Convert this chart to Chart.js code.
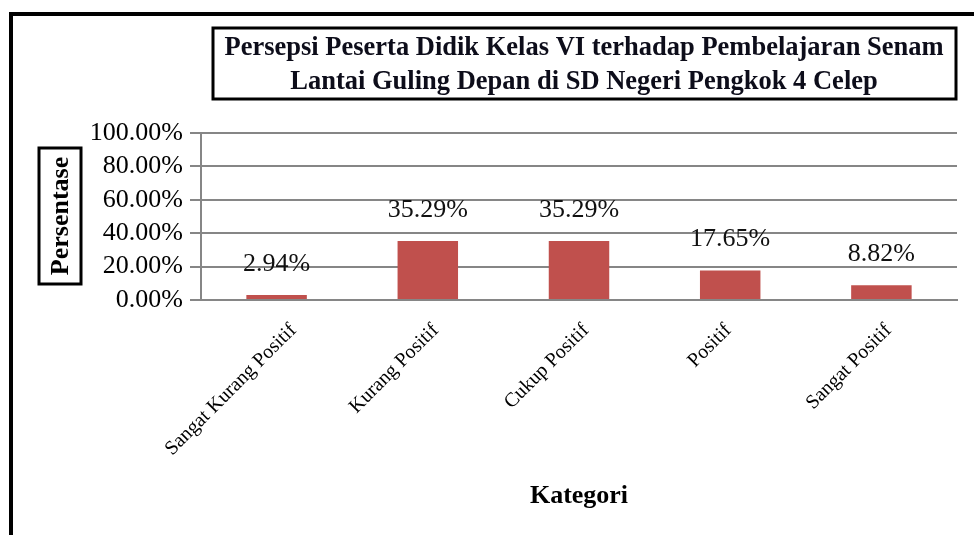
<!DOCTYPE html>
<html><head><meta charset="utf-8">
<script src="https://cdn.jsdelivr.net/npm/chart.js@4/dist/chart.umd.min.js"></script>
<style>html,body{margin:0;padding:0;background:#fff;} canvas{display:block;}</style>
</head><body>
<canvas id="c" width="974" height="535"></canvas>
<script>
const categories = ['Sangat Kurang Positif', 'Kurang Positif', 'Cukup Positif', 'Positif', 'Sangat Positif'];
const percentages = [2.94, 35.29, 35.29, 17.65, 8.82];
const yTickValues = [0, 20, 40, 60, 80, 100];
const titleLines = ['Persepsi Peserta Didik Kelas VI terhadap Pembelajaran Senam', 'Lantai Guling Depan di SD Negeri Pengkok 4 Celep'];
const yAxisTitle = 'Persentase';
const xAxisTitle = 'Kategori';

const SERIF = '"Liberation Serif", "Times New Roman", serif';
const BAR_COLOR = '#C0504D';
const GRID_COLOR = '#868686';

const decorPlugin = {
  id: 'decor',
  afterDraw(chart) {
    const ctx = chart.ctx;
    ctx.save();
    // outer frame (only left & top visible)
    ctx.strokeStyle = '#000';
    ctx.lineWidth = 4;
    ctx.strokeRect(11, 14, 1000, 600);
    // title box
    ctx.lineWidth = 3;
    ctx.strokeRect(213, 28, 743, 71);
    ctx.fillStyle = '#0d0d1a';
    ctx.font = 'bold 26.5px ' + SERIF;
    ctx.textAlign = 'center';
    ctx.textBaseline = 'middle';
    ctx.fillText(titleLines[0], 584, 48);
    ctx.fillText(titleLines[1], 584, 82);
    // y axis title box
    ctx.strokeRect(39, 148, 42, 136);
    ctx.save();
    ctx.translate(61, 216);
    ctx.rotate(-Math.PI / 2);
    ctx.fillStyle = '#000';
    ctx.font = 'bold 26px ' + SERIF;
    ctx.fillText(yAxisTitle, 0, 0);
    ctx.restore();
    // x axis title
    ctx.fillStyle = '#000';
    ctx.font = 'bold 26px ' + SERIF;
    ctx.fillText(xAxisTitle, 579, 496);
    // category labels, rotated 45 degrees, placed from the x scale tick pixels
    const xs = chart.scales.x;
    ctx.font = '20px ' + SERIF;
    ctx.textAlign = 'right';
    ctx.textBaseline = 'alphabetic';
    categories.forEach((lab, i) => {
      const w = ctx.measureText(lab).width;
      const tx = xs.getPixelForTick(i);
      ctx.save();
      ctx.translate(tx + 0.15 * w - 6, xs.top + 31);
      ctx.rotate(-Math.PI / 4);
      ctx.fillText(lab, 0, 0);
      ctx.restore();
    });
    ctx.restore();
  },
  afterDatasetsDraw(chart) {
    const ctx = chart.ctx;
    const meta = chart.getDatasetMeta(0);
    ctx.save();
    ctx.fillStyle = '#111';
    ctx.font = '26px ' + SERIF;
    ctx.textAlign = 'center';
    ctx.textBaseline = 'middle';
    meta.data.forEach((bar, i) => {
      ctx.fillText(percentages[i].toFixed(2) + '%', bar.x, bar.y - 31);
    });
    ctx.restore();
  }
};

new Chart(document.getElementById('c'), {
  type: 'bar',
  data: {
    labels: categories,
    datasets: [{
      data: percentages,
      backgroundColor: BAR_COLOR,
      borderWidth: 0,
      categoryPercentage: 1,
      barPercentage: 0.4
    }]
  },
  options: {
    responsive: false,
    animation: false,
    devicePixelRatio: 1,
    layout: { padding: { left: 0, top: 133, right: 17, bottom: 0 } },
    plugins: { legend: { display: false }, tooltip: { enabled: false }, title: { display: false } },
    scales: {
      x: {
        grid: { display: false, drawTicks: false },
        border: { display: true, color: GRID_COLOR, width: 2 },
        ticks: { display: false, autoSkip: false },
        afterFit(scale) { scale.height = 235; }
      },
      y: {
        min: 0, max: 100,
        afterBuildTicks(scale) { scale.ticks = yTickValues.map(v => ({ value: v })); },
        grid: { color: GRID_COLOR, lineWidth: 2, tickLength: 11, drawTicks: true },
        border: { display: true, color: GRID_COLOR, width: 2 },
        ticks: {
          autoSkip: false,
          color: '#000',
          font: { family: SERIF, size: 26 },
          padding: 7,
          callback: v => v.toFixed(2) + '%'
        },
        afterFit(scale) { scale.width = 201; }
      }
    }
  },
  plugins: [decorPlugin]
});
</script>
</body></html>
